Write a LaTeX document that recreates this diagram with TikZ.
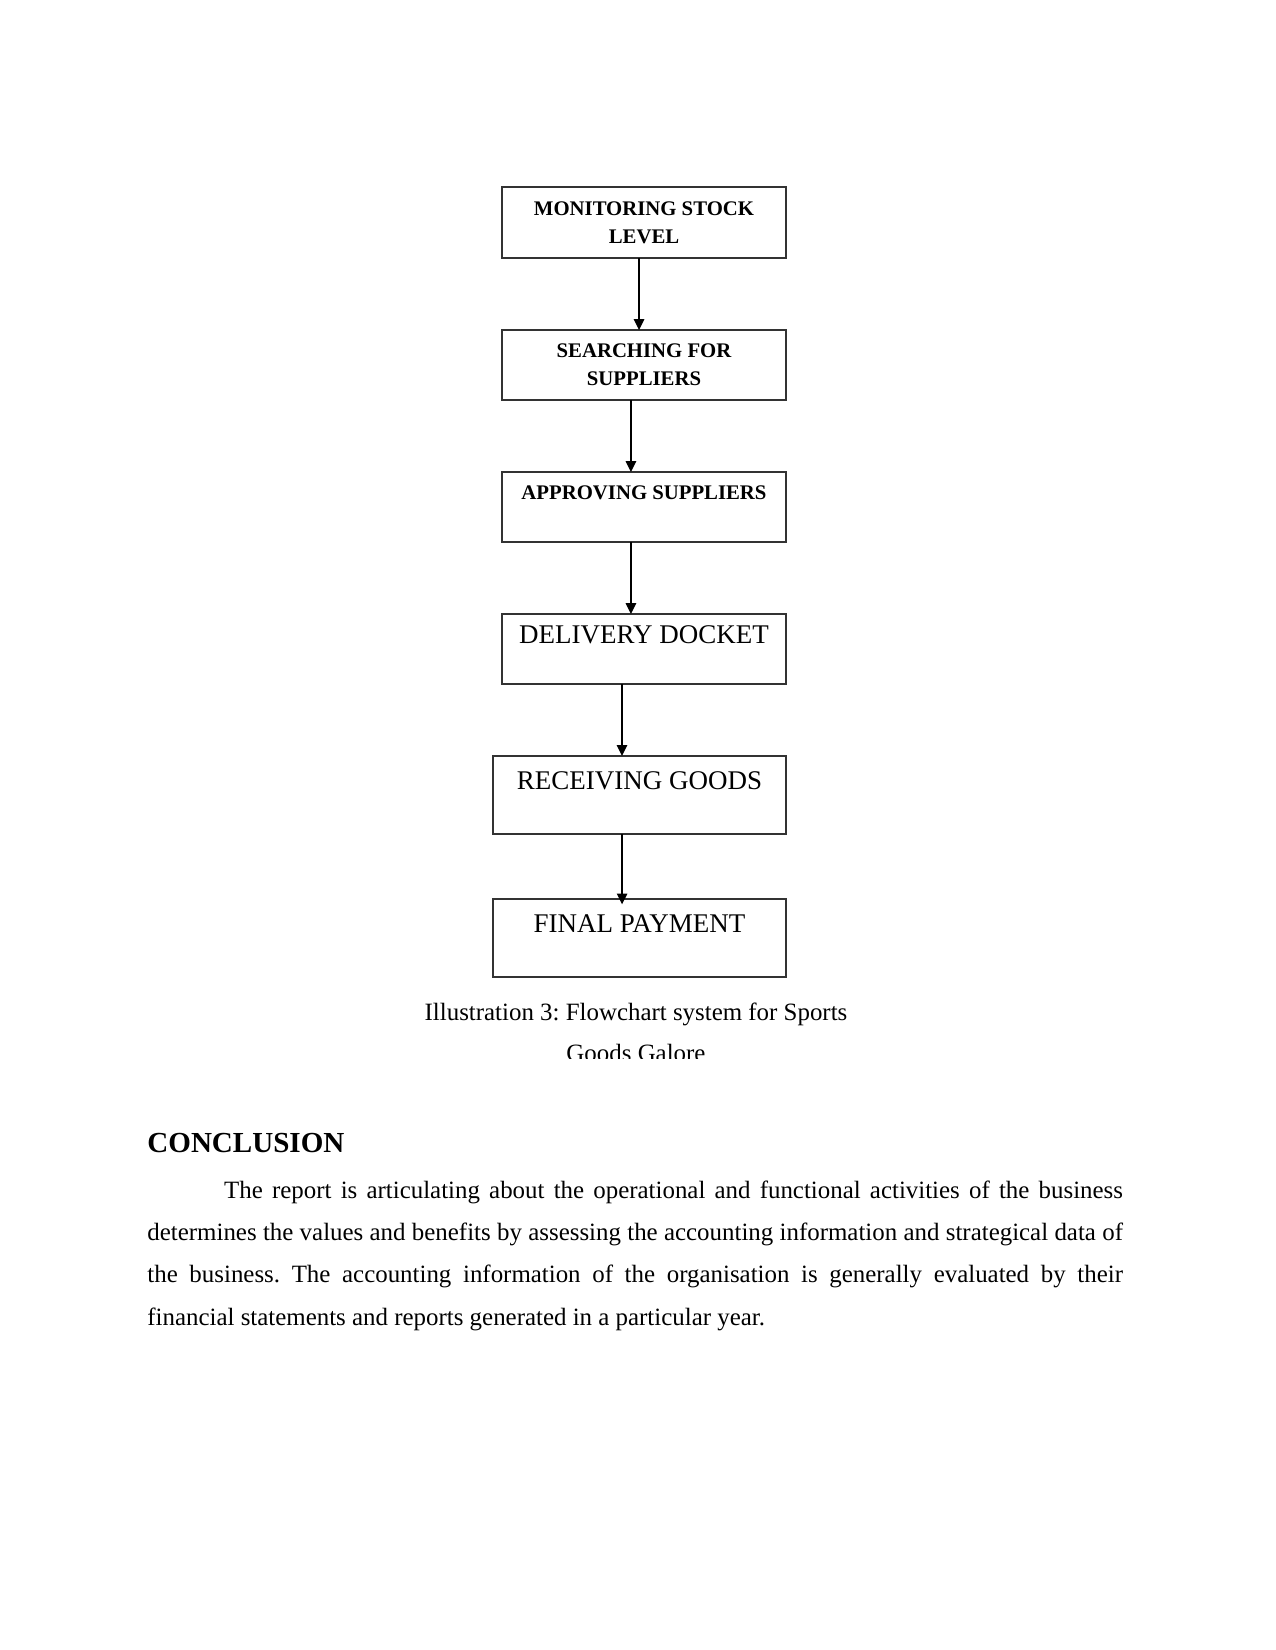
\documentclass[tikz,border=0pt]{standalone}
\usepackage{fontspec}
\setmainfont{Liberation Serif}
\usetikzlibrary{arrows.meta}
\definecolor{boxline}{gray}{0.2}
\frenchspacing

\begin{document}
\begin{tikzpicture}[
  x=0.4818pt, y=-0.4818pt,
  stage/.style={draw=boxline, line width=0.8pt, inner sep=0pt, outer sep=0pt, minimum width=136.8pt, minimum height=33.7pt, align=center, font=\fontsize{10}{13.5}\selectfont\bfseries},
  plainstage/.style={stage, font=\fontsize{13}{13.5}\selectfont},
  widestage/.style={plainstage, minimum width=141.2pt, minimum height=37.6pt},
  flow/.style={-{Triangle[width=5pt, length=5.2pt]}, line width=0.7pt}
]
  \useasboundingbox (0,0) rectangle (1275,1650);
  \fill[white] (0,0) rectangle (1275,1650);

  % Flowchart
  \node[stage, minimum height=34.2pt] (mon) at (644,222.5) {MONITORING STOCK\\LEVEL};
  \node[stage] (srch) at (644,365) {SEARCHING FOR\\SUPPLIERS};
  \node[stage] (appr) at (644,507) {APPROVING SUPPLIERS\\\mbox{}};
  \node[plainstage] (dock) at (644,649) {DELIVERY DOCKET\\\mbox{}};
  \node[widestage] (recv) at (639.5,795) {RECEIVING GOODS\\\mbox{}};
  \node[widestage] (pay) at (639.5,938) {FINAL PAYMENT\\\mbox{}};

  \draw[flow] ([xshift=-2.4pt]mon.south) -- ([xshift=-2.4pt]mon.south |- srch.north);
  \draw[flow] ([xshift=-6.3pt]srch.south) -- ([xshift=-6.3pt]srch.south |- appr.north);
  \draw[flow] ([xshift=-6.3pt]appr.south) -- ([xshift=-6.3pt]appr.south |- dock.north);
  \draw[flow] ([xshift=-10.6pt]dock.south) -- ([xshift=-10.6pt]dock.south |- recv.north);
  \draw[flow, shorten >=-2.6pt] ([xshift=-8.4pt]recv.south) -- ([xshift=-8.4pt]recv.south |- pay.north);

  % Caption
  \node[anchor=base, font=\fontsize{12}{14}\selectfont, inner sep=0pt] (cap) at (636,1020) {Illustration 3: Flowchart system for Sports};
  \begin{scope}
    \clip (400,1030) rectangle (880,1058);
    \node[anchor=base, font=\fontsize{12}{14}\selectfont, inner sep=0pt] (cap2) at (636,1061) {Goods Galore};
  \end{scope}

  % Conclusion
  \node[anchor=base west, font=\fontsize{14}{16}\selectfont\bfseries, inner sep=0pt] (head) at (147,1152) {CONCLUSION};
  \node[anchor=base west, text width=470pt, align=justify, inner sep=0pt, font=\fontsize{12}{20.4}\selectfont] (body) at (147,1198)
    {\hspace*{37pt}The report is articulating about the operational and functional activities of the business\linebreak
     determines the values and benefits by assessing the accounting information and strategical data of\linebreak
     the business. The accounting information of the organisation is generally evaluated by their\linebreak
     financial statements and reports generated in a particular year.};
\end{tikzpicture}
\end{document}
